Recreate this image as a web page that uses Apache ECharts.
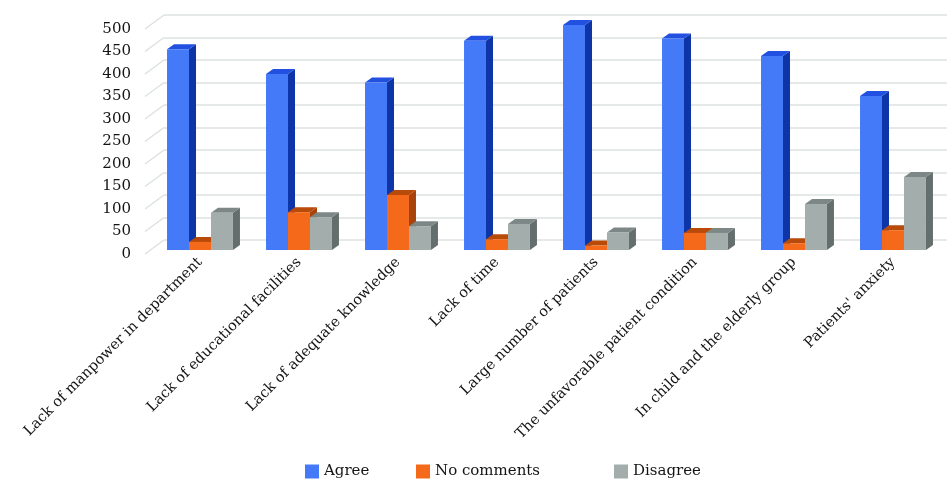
<!DOCTYPE html>
<html>
<head>
<meta charset="utf-8">
<script src="https://cdn.jsdelivr.net/npm/echarts@6/dist/echarts.min.js"></script>
<style>
  html, body { margin: 0; padding: 0; background: #fff; }
  #chart { width: 947px; height: 480px; }
</style>
</head>
<body>
<div id="chart"></div>
<script>
// data
const categories = [
  "Lack of manpower in department",
  "Lack of educational facilities",
  "Lack of adequate knowledge",
  "Lack of time",
  "Large number of patients",
  "The unfavorable patient condition",
  "In child and the elderly group",
  "Patients' anxiety"
];
const agree = [446, 391, 372, 465, 500, 470, 431, 342];
const noComments = [18, 84, 122, 24, 10, 38, 15, 44];
const disagree = [83, 73, 53, 58, 39, 38, 102, 162];
const yTicks = [0, 50, 100, 150, 200, 250, 300, 350, 400, 450, 500];

// colours: front, side, top
const palette = [
  { name: "Agree", front: "#4479f8", side: "#0d35a8", top: "#2250e0" },
  { name: "No comments", front: "#f5691a", side: "#a8430c", top: "#b84a0a" },
  { name: "Disagree", front: "#a3aeac", side: "#646e6c", top: "#7d8886" }
];
const seriesData = [agree, noComments, disagree];

// fake 3d: front plane, bar plane, back wall
const front = { left: 145, top: 29, width: 792, height: 225 };
const barPlane = { left: 150.5, top: 25, width: 792, height: 225 };
const back = { left: 164, top: 15, width: 792, height: 225 };
const depthX = 7, depthY = 5;
const font = "'DejaVu Serif', 'Liberation Serif', serif";

let chart = echarts.init(document.getElementById("chart"));

function barRender(k) {
  return function (params, api) {
    const idx = api.value(0);
    const base = api.coord([idx, 0]);
    const top = api.coord([idx, api.value(1)]);
    const band = api.size([1, 0])[0];
    const w = band * 0.222;
    const x = base[0] + (k - 1.5) * w;
    const c = palette[k];
    return {
      type: "group",
      children: [
        {
          type: "polygon",
          shape: { points: [[x + w, top[1]], [x + w + depthX, top[1] - depthY], [x + w + depthX, base[1] - depthY], [x + w, base[1]]] },
          style: { fill: c.side }
        },
        {
          type: "polygon",
          shape: { points: [[x, top[1]], [x + depthX, top[1] - depthY], [x + w + depthX, top[1] - depthY], [x + w, top[1]]] },
          style: { fill: c.top }
        },
        {
          type: "rect",
          shape: { x: x, y: top[1], width: w, height: base[1] - top[1] },
          style: { fill: c.front }
        }
      ]
    };
  };
}

const barSeries = palette.map((p, k) => ({
  name: p.name,
  type: "custom",
  xAxisIndex: 1,
  yAxisIndex: 1,
  color: p.front,
  renderItem: barRender(k),
  data: seriesData[k].map((v, i) => [i, v]),
  z: 5 + k
}));

chart.setOption({
  animation: false,
  grid: [
    Object.assign({}, front),
    Object.assign({}, barPlane),
    Object.assign({}, back)
  ],
  xAxis: [
    { gridIndex: 0, type: "category", data: categories, show: false },
    {
      gridIndex: 1, type: "category", data: categories,
      axisLine: { show: false }, axisTick: { show: false },
      axisLabel: {
        rotate: 45, interval: 0, margin: 10,
        fontFamily: font, fontSize: 14.5, color: "#141414"
      }
    },
    { gridIndex: 2, type: "category", data: categories, show: false }
  ],
  yAxis: [
    {
      gridIndex: 0, type: "value", min: 0, max: 500, interval: 50,
      axisLine: { show: false }, axisTick: { show: false }, splitLine: { show: false },
      axisLabel: { margin: 14, padding: [5, 0, 0, 0], fontFamily: font, fontSize: 15, color: "#141414" }
    },
    {
      gridIndex: 1, type: "value", min: 0, max: 500, interval: 50,
      axisLine: { show: false }, axisTick: { show: false }, splitLine: { show: false },
      axisLabel: { show: false }
    },
    {
      gridIndex: 2, type: "value", min: 0, max: 500, interval: 50,
      axisLine: { show: false }, axisTick: { show: false }, axisLabel: { show: false },
      splitLine: { lineStyle: { color: "#dce2e0", width: 1.5 } }
    }
  ],
  legend: palette.map((p, k) => ({
    data: [p.name],
    left: [300, 411, 609][k],
    top: 459,
    itemWidth: 14,
    itemHeight: 14,
    icon: "rect",
    textStyle: { fontFamily: font, fontSize: 15, color: "#141414" }
  })),
  series: [
    {
      // slanted lines on the left wall
      type: "custom",
      xAxisIndex: 0,
      yAxisIndex: 0,
      silent: true,
      renderItem: function (params, api) {
        const p = api.coord([0, api.value(1)]);
        const x0 = params.coordSys.x;
        return {
          type: "line",
          shape: { x1: x0, y1: p[1], x2: x0 + (back.left - front.left), y2: p[1] - (front.top - back.top) },
          style: { stroke: "#dce2e0", lineWidth: 1.5 }
        };
      },
      data: yTicks.map(v => [0, v]),
      z: 1
    }
  ].concat(barSeries)
});
</script>
</body>
</html>
